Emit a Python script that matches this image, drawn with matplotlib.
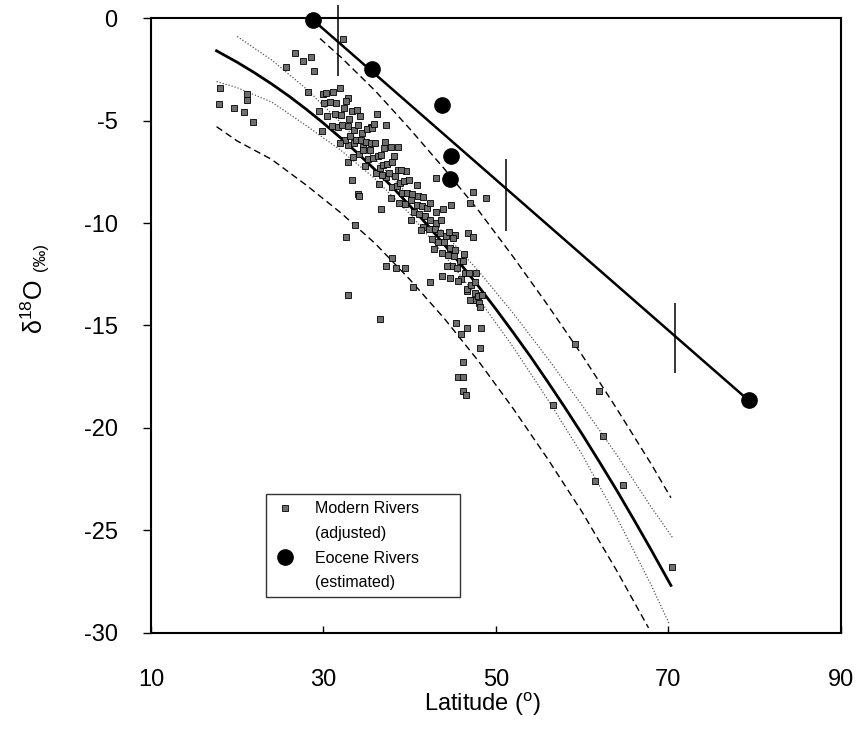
import matplotlib
matplotlib.use('Agg')
import matplotlib.pyplot as plt
from matplotlib.lines import Line2D

plt.rcParams['font.family'] = ['Liberation Sans', 'DejaVu Sans']
plt.rcParams['mathtext.fontset'] = 'custom'
plt.rcParams['mathtext.rm'] = 'Liberation Sans'
plt.rcParams['axes.unicode_minus'] = False

# ---------------- data ----------------
# Modern rivers (adjusted): outlying / sparse observations
sparse_lat = [
    32.3, 26.7, 27.6, 28.6, 25.6, 28.9, 18.0, 17.9, 21.1, 21.1, 19.6, 20.8, 21.8,
    28.2, 29.9, 31.9, 32.8, 29.8, 36.2, 37.3, 35.5, 37.8, 38.7, 32.9, 33.3, 34.0,
    36.7, 32.6, 43.0, 43.9, 44.8, 47.4, 48.8, 47.0, 46.8, 33.7, 37.9, 37.3, 38.4,
    39.5, 40.4, 42.4, 32.8, 36.6, 45.4, 45.9, 46.6, 48.3, 48.2, 46.2, 45.6, 46.2,
    46.2, 46.5, 43.7, 44.7, 46.6, 47.6, 48.0, 45.3, 47.4, 59.2, 61.9, 56.6, 62.4,
    61.5, 64.7, 70.4, 32.9, 34.6, 34.1,
]
sparse_d18o = [
    -1.0, -1.7, -2.1, -1.9, -2.4, -2.6, -3.4, -4.2, -3.7, -4.0, -4.4, -4.6, -5.05,
    -3.6, -3.7, -3.4, -3.9, -5.5, -4.7, -5.2, -5.3, -6.3, -6.3, -7.0, -7.9, -8.6,
    -9.3, -10.7, -7.8, -9.3, -9.1, -8.5, -8.8, -9.0, -10.5, -10.1, -11.7, -12.1, -12.2,
    -12.2, -13.1, -12.9, -13.5, -14.7, -14.9, -15.4, -15.1, -15.1, -16.1, -16.8, -17.5, -17.5,
    -18.2, -18.4, -12.6, -12.7, -13.3, -13.4, -13.9, -10.6, -10.7, -15.9, -18.2, -18.9, -20.4,
    -22.6, -22.8, -26.8, -6.2, -6.3, -8.7,
]
# Modern rivers (adjusted): dense cluster along the fit
dense_lat = [
    30.1, 30.4, 30.8, 31.0, 31.3, 31.5, 31.7, 32.0, 32.2, 32.4, 32.5, 32.8, 33.0,
    33.1, 33.3, 33.5, 33.6, 33.8, 34.0, 34.1, 34.3, 34.5, 34.6, 34.9, 35.0, 35.2,
    35.4, 35.5, 35.8, 36.0, 36.1, 36.3, 36.5, 36.7, 36.9, 37.0, 37.3, 37.4, 37.6,
    37.9, 38.0, 38.3, 38.5, 38.6, 38.9, 39.1, 39.3, 39.4, 39.7, 39.9, 40.1, 40.3,
    40.5, 40.8, 41.0, 41.1, 41.4, 41.6, 41.8, 42.0, 42.2, 42.4, 42.6, 42.9, 43.1,
    43.3, 43.5, 43.8, 44.0, 44.2, 44.4, 44.7, 44.9, 45.1, 45.3, 45.5, 45.8, 46.0,
    46.2, 46.4, 46.7, 46.9, 47.1, 47.4, 47.6, 47.9, 48.2,
    29.5, 30.3, 31.1, 31.9, 32.6, 33.4, 34.2, 34.8, 35.6, 36.4, 37.1, 37.8, 38.2,
    38.8, 39.6, 40.2, 40.9, 41.5, 42.3, 42.8, 43.6, 44.3, 45.0, 45.6, 46.3, 47.0,
    47.7, 48.4, 36.8, 39.0, 41.3, 43.0, 44.6, 33.9, 35.9,
]
dense_d18o = [
    -4.17, -4.77, -4.12, -5.29, -4.70, -4.17, -5.34, -4.75, -5.22, -4.40, -5.94, -5.25, -4.92,
    -5.76, -4.54, -6.12, -5.45, -5.93, -5.21, -6.65, -5.93, -5.61, -6.44, -6.06, -5.40, -6.88,
    -6.46, -6.11, -6.83, -6.11, -7.55, -6.74, -7.32, -6.70, -7.19, -6.33, -7.76, -7.10, -7.58,
    -7.01, -8.25, -7.69, -8.18, -7.42, -8.06, -8.55, -7.94, -9.08, -8.52, -7.91, -8.90, -8.59,
    -9.48, -9.11, -8.70, -9.55, -9.19, -10.18, -9.68, -9.27, -10.27, -9.87, -10.76, -10.31, -10.01,
    -10.91, -10.51, -11.45, -10.95, -10.65, -11.55, -11.20, -12.10, -11.60, -11.30, -12.20, -11.85, -12.75,
    -11.85, -12.46, -13.21, -12.42, -13.02, -13.78, -12.89, -13.55, -14.11,
    -4.55, -3.64, -3.63, -6.11, -4.07, -6.78, -4.79, -7.22, -5.35, -8.08, -6.07, -8.77, -6.74,
    -9.01, -7.47, -9.84, -8.16, -8.74, -9.02, -11.26, -9.85, -12.10, -10.75, -12.85, -11.51, -13.77,
    -12.44, -13.51, -7.65, -7.40, -10.34, -9.46, -10.45, -4.47, -5.17,
]
modern_lat = sparse_lat + dense_lat
modern_d18o = sparse_d18o + dense_d18o

# Modern-river fit and bands
fit_lat = [17.6, 20, 22, 24, 26, 28, 30, 32, 34, 36, 38, 40, 42, 44, 46, 48, 50,
           52, 54, 56, 58, 60, 62, 64, 66, 68, 70.3]
fit_d18o = [-1.6, -2.16, -2.67, -3.22, -3.81, -4.45, -5.13, -5.85, -6.61, -7.41,
            -8.25, -9.15, -10.07, -11.05, -12.05, -13.1, -14.2, -15.34, -16.51,
            -17.74, -19.0, -20.3, -21.65, -23.03, -24.47, -25.94, -27.68]

ci_hi_lat = [20, 24, 28, 32, 36, 40, 44, 48, 52, 56, 60, 64, 68, 70.5]
ci_hi_d18o = [-0.9, -2.05, -3.45, -5.1, -6.9, -8.7, -10.5, -12.35, -14.4, -16.6,
              -18.9, -21.3, -23.85, -25.35]

ci_lo_lat = [17.6, 20, 24, 28, 32, 36, 40, 44, 48, 52, 56, 60, 64, 68, 70.1]
ci_lo_d18o = [-3.1, -3.4, -4.1, -5.25, -6.45, -7.85, -9.55, -11.55, -13.7, -16.05,
              -18.6, -21.3, -24.35, -27.65, -29.55]

pi_hi_lat = [29.6, 32, 36, 40, 44, 48, 52, 56, 60, 64, 68, 70.3]
pi_hi_d18o = [-1.0, -1.9, -3.55, -5.4, -7.35, -9.4, -11.65, -14.0, -16.45, -19.05,
              -21.75, -23.4]

pi_lo_lat = [17.6, 20, 24, 28, 32, 36, 40, 44, 48, 52, 56, 60, 64, 67.7]
pi_lo_d18o = [-5.3, -6.0, -6.9, -8.15, -9.5, -11.0, -12.75, -14.65, -16.75, -19.05,
              -21.5, -24.1, -26.95, -29.75]

# Eocene rivers (estimated)
eocene_lat = [28.8, 35.6, 43.8, 44.8, 44.7, 79.3]
eocene_d18o = [-0.1, -2.5, -4.25, -6.75, -7.85, -18.65]

# Eocene regression line and its error bars
eline_lat = [28.8, 79.3]
eline_d18o = [-0.1, -18.65]
ebar_lat = [31.7, 51.2, 70.8]
ebar_lo = [-2.85, -10.4, -17.3]
ebar_hi = [0.65, -6.9, -13.9]

xticks = [10, 30, 50, 70, 90]
yticks = [0, -5, -10, -15, -20, -25, -30]

# ---------------- plot ----------------
fig = plt.figure(figsize=(8.59, 7.29), dpi=100)
ax = fig.add_axes([0.1758, 0.1317, 0.803, 0.8436])

ax.plot(pi_hi_lat, pi_hi_d18o, color='black', lw=1.0, ls=(0, (5, 3)))
ax.plot(pi_lo_lat, pi_lo_d18o, color='black', lw=1.0, ls=(0, (5, 3)))
ax.plot(ci_hi_lat, ci_hi_d18o, color='#555555', lw=0.9, ls=(0, (1, 1.5)))
ax.plot(ci_lo_lat, ci_lo_d18o, color='#555555', lw=0.9, ls=(0, (1, 1.5)))
ax.plot(fit_lat, fit_d18o, color='black', lw=2.0)

ax.plot(modern_lat, modern_d18o, ls='none', marker='s', ms=4.8,
        mfc='#6e6e6e', mec='black', mew=0.6)

ax.plot(eline_lat, eline_d18o, color='black', lw=1.8)
ax.vlines(ebar_lat, ebar_lo, ebar_hi, color='black', lw=1.1, clip_on=False)
ax.plot(eocene_lat, eocene_d18o, ls='none', marker='o', ms=11, color='black',
        clip_on=False, zorder=5)

ax.set_xlim(10, 90)
ax.set_ylim(-30, 0)
ax.set_xticks(xticks)
ax.set_yticks(yticks)
ax.tick_params(axis='x', direction='in', length=5, width=1, pad=26, labelsize=17)
ax.tick_params(axis='y', direction='out', length=6, width=1, pad=18, labelsize=17)
for s in ax.spines.values():
    s.set_linewidth(1.5)

ax.set_xlabel('Latitude ($^{\\mathregular{o}}$)', fontsize=17)
ax.xaxis.set_label_coords(0.48, -0.093)
ax.set_ylabel('δ$^{\\mathregular{18}}$O', fontsize=18)
ax.yaxis.set_label_coords(-0.15, 0.53)
ax.text(-0.16, 0.612, '(‰)', transform=ax.transAxes, rotation=90,
        fontsize=12, ha='center', va='center')

handles = [
    Line2D([], [], ls='none', marker='s', ms=4.8, mfc='#6e6e6e', mec='black', mew=0.6),
    Line2D([], [], ls='none'),
    Line2D([], [], ls='none', marker='o', ms=11, color='black'),
    Line2D([], [], ls='none'),
]
labels = ['Modern Rivers', '(adjusted)', 'Eocene Rivers', '(estimated)']
leg = ax.legend(handles, labels, loc='lower left',
                bbox_to_anchor=(0.167, 0.058, 0.281, 0.166), mode='expand',
                fontsize=11.5, frameon=True, fancybox=False, edgecolor='black',
                borderpad=0.45, labelspacing=0.6, handletextpad=1.1,
                handlelength=1.5, borderaxespad=0)
leg.get_frame().set_linewidth(1.0)

fig.savefig('out.png', dpi=100, facecolor='white')
